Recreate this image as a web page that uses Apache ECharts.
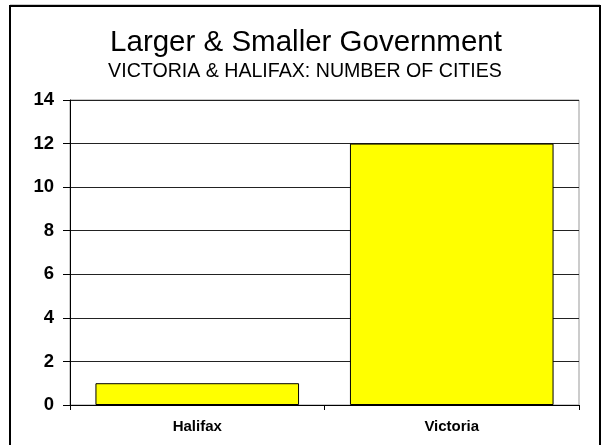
<!DOCTYPE html>
<html>
<head>
<meta charset="utf-8">
<script src="https://cdn.jsdelivr.net/npm/echarts@6/dist/echarts.min.js"></script>
<style>
  html, body { margin: 0; padding: 0; background: #fff; }
  #chart { width: 602px; height: 445px; position: absolute; left: 0; top: 0; }
  #frame { position: absolute; left: 9px; top: 5px; width: 588px; height: 460px;
           border: 2px solid #000; box-sizing: content-box; pointer-events: none; }
  #shade { position: absolute; left: 10px; top: 4px; width: 590px; height: 1px; background: #ccc; }
</style>
</head>
<body>
<div id="chart"></div>
<div id="shade"></div>
<div id="frame"></div>
<script>
const titleText = 'Larger & Smaller Government';
const subtitleText = 'VICTORIA & HALIFAX: NUMBER OF CITIES';
const categories = ['Halifax', 'Victoria'];
const cityCounts = [1, 12];
const yTicks = [0, 2, 4, 6, 8, 10, 12, 14];

const chart = echarts.init(document.getElementById('chart'), null, { renderer: 'canvas' });
chart.setOption({
  animation: false,
  backgroundColor: '#fff',
  title: [
    {
      text: titleText,
      left: 301, top: 23, textAlign: 'center',
      textStyle: { fontFamily: 'Liberation Sans, Arial', fontSize: 29.5, fontWeight: 'normal', color: '#000' }
    },
    {
      text: subtitleText,
      left: 300, top: 57, textAlign: 'center',
      textStyle: { fontFamily: 'Liberation Sans, Arial', fontSize: 19.6, fontWeight: 'normal', color: '#000' }
    }
  ],
  grid: {
    left: 70, right: 23, top: 100, bottom: 40,
    show: true, borderColor: '#999', borderWidth: 1, backgroundColor: '#fff'
  },
  xAxis: {
    type: 'category',
    data: categories,
    axisLine: { show: true, lineStyle: { color: '#000', width: 1 } },
    axisTick: { show: true, length: 5, inside: false, alignWithLabel: false, lineStyle: { color: '#000' } },
    axisLabel: { fontFamily: 'Liberation Sans, Arial', fontSize: 15, fontWeight: 'bold', color: '#000', margin: 14 },
    splitLine: { show: false }
  },
  yAxis: {
    type: 'value',
    min: yTicks[0], max: yTicks[yTicks.length - 1], interval: 2,
    axisLine: { show: true, lineStyle: { color: '#000', width: 1 } },
    axisTick: { show: true, length: 7, lineStyle: { color: '#000' } },
    axisLabel: { fontFamily: 'Liberation Sans, Arial', fontSize: 18.5, fontWeight: 'bold', color: '#000', margin: 16 },
    splitLine: { show: true, lineStyle: { color: '#222', width: 1 } }
  },
  series: [{
    type: 'bar',
    data: cityCounts,
    barCategoryGap: '20%',
    itemStyle: { color: '#FFFF00', borderColor: '#000', borderWidth: 1 }
  }]
});
</script>
</body>
</html>
